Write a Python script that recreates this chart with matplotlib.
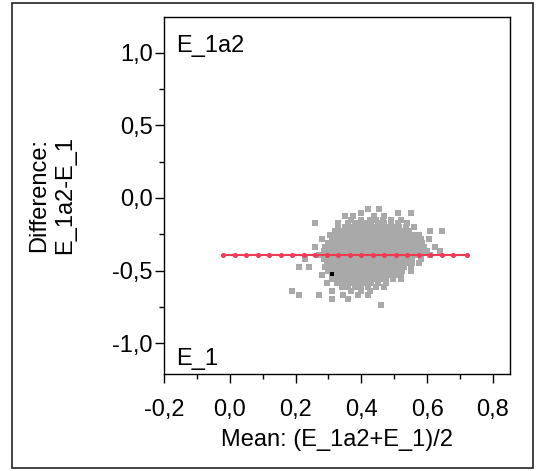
import matplotlib
matplotlib.use('Agg')
import matplotlib.pyplot as plt
from matplotlib.patches import Rectangle

plt.rcParams['font.family'] = ['Liberation Sans', 'DejaVu Sans']

# ---------------- data ----------------
x_ticks = [-0.2, 0.0, 0.2, 0.4, 0.6, 0.8]
x_tick_labels = ['-0,2', '0,0', '0,2', '0,4', '0,6', '0,8']
x_minor = [-0.1, 0.1, 0.3, 0.5, 0.7]
y_ticks = [-1.0, -0.5, 0.0, 0.5, 1.0]
y_tick_labels = ['-1,0', '-0,5', '0,0', '0,5', '1,0']
y_minor = [-0.75, -0.25, 0.25, 0.75]

x_label = 'Mean: (E_1a2+E_1)/2'
y_label = 'Difference:\nE_1a2-E_1'
top_note = 'E_1a2'
bottom_note = 'E_1'

mean_diff = -0.39
mean_line_x = [-0.02, 0.015, 0.05, 0.085, 0.12, 0.155, 0.19, 0.225, 0.26, 0.295,
               0.33, 0.365, 0.40, 0.435, 0.47, 0.505, 0.54, 0.575, 0.61, 0.645,
               0.68, 0.72]

# grey cloud of points, read row by row (difference level -> list of means)
row_diff = [-0.075, -0.103, -0.124, -0.151, -0.172, -0.20, -0.227, -0.255,
            -0.282, -0.31, -0.337, -0.365, -0.392, -0.42, -0.447, -0.475,
            -0.502, -0.53, -0.557, -0.585, -0.612, -0.64, -0.667, -0.695,
            -0.736]
row_means = [
    [0.42, 0.455],
    [0.40, 0.51, 0.55],
    [0.35, 0.375, 0.44, 0.47],
    [0.37, 0.40, 0.425, 0.445, 0.465, 0.49, 0.52],
    [0.26, 0.33, 0.36, 0.38, 0.40, 0.415, 0.43, 0.45, 0.47, 0.49, 0.51, 0.54],
    [0.33, 0.35, 0.365, 0.38, 0.395, 0.41, 0.425, 0.44, 0.455, 0.47, 0.485,
     0.50, 0.515, 0.535, 0.56],
    [0.32, 0.335, 0.35, 0.365, 0.38, 0.395, 0.41, 0.425, 0.44, 0.455, 0.47,
     0.485, 0.50, 0.515, 0.53, 0.545, 0.61, 0.645],
    [0.305, 0.32, 0.335, 0.35, 0.365, 0.38, 0.395, 0.41, 0.425, 0.44, 0.455,
     0.47, 0.485, 0.50, 0.515, 0.53, 0.545, 0.56, 0.575],
    [0.28, 0.31, 0.325, 0.34, 0.355, 0.37, 0.385, 0.40, 0.415, 0.43, 0.445,
     0.46, 0.475, 0.49, 0.505, 0.52, 0.535, 0.55, 0.565, 0.58, 0.605],
    [0.30, 0.315, 0.33, 0.345, 0.36, 0.375, 0.39, 0.405, 0.42, 0.435, 0.45,
     0.465, 0.48, 0.495, 0.51, 0.525, 0.54, 0.555, 0.57, 0.585],
    [0.26, 0.29, 0.305, 0.32, 0.335, 0.35, 0.365, 0.38, 0.395, 0.41, 0.425,
     0.44, 0.455, 0.47, 0.485, 0.50, 0.515, 0.53, 0.545, 0.56, 0.575, 0.59, 0.625],
    [0.285, 0.30, 0.315, 0.33, 0.345, 0.36, 0.375, 0.39, 0.405, 0.42, 0.435,
     0.45, 0.465, 0.48, 0.495, 0.51, 0.525, 0.54, 0.555, 0.57, 0.585, 0.60, 0.64],
    [0.27, 0.29, 0.305, 0.32, 0.335, 0.35, 0.365, 0.38, 0.395, 0.41, 0.425,
     0.44, 0.455, 0.47, 0.485, 0.50, 0.515, 0.53, 0.545, 0.56, 0.575, 0.61],
    [0.23, 0.285, 0.30, 0.315, 0.33, 0.345, 0.36, 0.375, 0.39, 0.405, 0.42,
     0.435, 0.45, 0.465, 0.48, 0.495, 0.51, 0.525, 0.54, 0.555, 0.58],
    [0.295, 0.31, 0.325, 0.34, 0.355, 0.37, 0.385, 0.40, 0.415, 0.43, 0.445,
     0.46, 0.475, 0.49, 0.505, 0.52, 0.535, 0.555, 0.575],
    [0.21, 0.24, 0.29, 0.305, 0.32, 0.335, 0.35, 0.365, 0.38, 0.395, 0.41,
     0.425, 0.44, 0.455, 0.47, 0.485, 0.50, 0.515, 0.53, 0.55],
    [0.30, 0.315, 0.33, 0.345, 0.36, 0.375, 0.39, 0.405, 0.42, 0.435, 0.45,
     0.465, 0.48, 0.495, 0.51, 0.525, 0.55],
    [0.28, 0.31, 0.325, 0.34, 0.355, 0.37, 0.385, 0.40, 0.415, 0.43, 0.445,
     0.46, 0.475, 0.49, 0.505, 0.52],
    [0.31, 0.325, 0.34, 0.355, 0.37, 0.385, 0.40, 0.415, 0.43, 0.445, 0.46,
     0.475, 0.495, 0.52],
    [0.295, 0.325, 0.34, 0.355, 0.37, 0.385, 0.40, 0.415, 0.43, 0.45, 0.475],
    [0.34, 0.36, 0.38, 0.40, 0.42, 0.445, 0.47],
    [0.19, 0.31, 0.37, 0.40, 0.425],
    [0.21, 0.27, 0.345, 0.39, 0.42],
    [0.31, 0.36],
    [0.46],
]

# the single highlighted (black) point
marked_mean = [0.31]
marked_diff = [-0.52]

cloud_x = [m for row in row_means for m in row]
cloud_y = [d for d, row in zip(row_diff, row_means) for _ in row]

# ---------------- figure ----------------
W, H = 537, 471
fig = plt.figure(figsize=(W / 100, H / 100), dpi=100)
left, right, top, bottom = 164, 510, 16.5, 374.3
ax = fig.add_axes([left / W, 1 - bottom / H, (right - left) / W, (bottom - top) / H])

ax.set_xlim(-0.2, 0.852)
ax.set_ylim(-1.213, 1.248)

ax.scatter(cloud_x, cloud_y, marker='s', s=14, color='#a9a9a9',
           linewidths=0, zorder=2)
ax.scatter(marked_mean, marked_diff, marker='s', s=12, color='black',
           linewidths=0, zorder=3)
ax.plot(mean_line_x, [mean_diff] * len(mean_line_x), color='#ee3a55',
        lw=1.5, marker='o', ms=2.6, zorder=4)

fs = 17
ax.set_xticks(x_ticks)
ax.set_xticklabels(x_tick_labels, fontsize=fs)
ax.set_xticks(x_minor, minor=True)
ax.set_yticks(y_ticks)
ax.set_yticklabels(y_tick_labels, fontsize=fs)
ax.set_yticks(y_minor, minor=True)
ax.tick_params(which='major', length=6.5, width=1.0, color='black')
ax.tick_params(which='minor', length=3.6, width=1.0, color='black')
ax.tick_params(axis='x', which='major', pad=11)
ax.tick_params(axis='y', which='major', pad=1.5)
for sp in ax.spines.values():
    sp.set_linewidth(1.0)
    sp.set_color('black')

ax.set_xlabel(x_label, fontsize=fs, labelpad=6)
ax.set_ylabel(y_label, fontsize=fs, labelpad=26, linespacing=1.25)

ax.text(0.035, 0.902, top_note, transform=ax.transAxes, fontsize=fs,
        ha='left', va='baseline')
ax.text(0.035, 0.026, bottom_note, transform=ax.transAxes, fontsize=fs,
        ha='left', va='baseline')

fig.add_artist(Rectangle((12 / W, 3 / H), (533 - 12) / W, (468 - 3) / H,
                         transform=fig.transFigure, fill=False, lw=1.2,
                         ec='#222222'))

fig.savefig('out.png', dpi=100)
